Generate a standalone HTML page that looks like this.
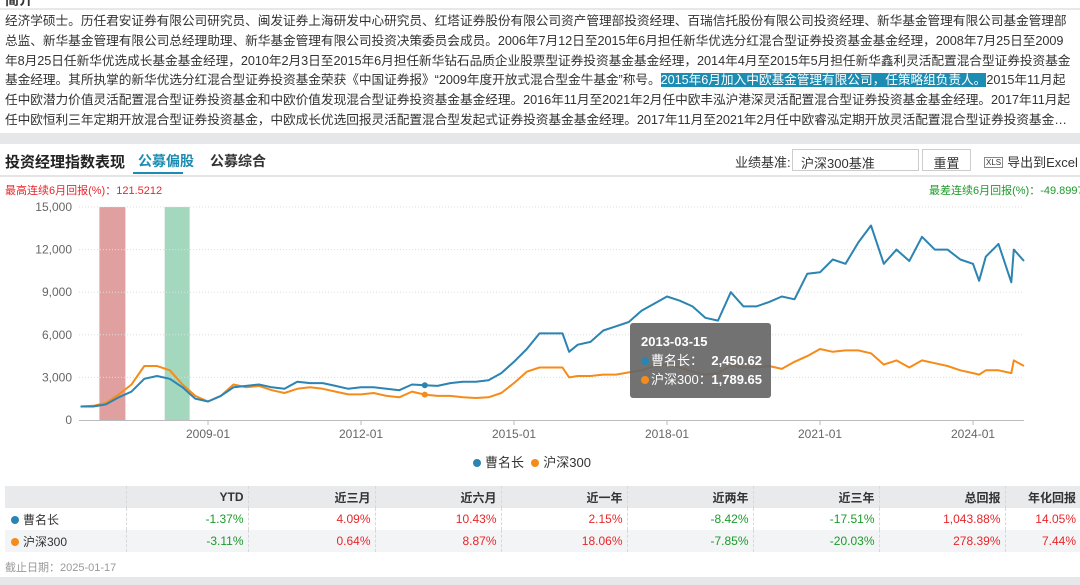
<!DOCTYPE html>
<html><head><meta charset="utf-8">
<style>
*{margin:0;padding:0;box-sizing:border-box}
body{width:1080px;height:585px;overflow:hidden;background:#fff;font-family:"Liberation Sans","Noto Sans CJK SC",sans-serif;position:relative;color:#333}
.bio{position:absolute;left:5px;top:12px;width:1075px;font-size:12.7px;line-height:19.8px;color:#333;white-space:nowrap;overflow:hidden;letter-spacing:-0.05px}
.bio div{overflow:hidden}
.hl{background:#1d8cb3;color:#fff}
.band{position:absolute;left:0;width:1080px;background:#e6e7e9}
.abs{position:absolute;white-space:nowrap}
table{position:absolute;left:5px;top:486px;width:1075px;border-collapse:collapse;font-size:12px;table-layout:fixed}
td,th{height:22px;text-align:right;padding-right:4px;border-right:1px dashed #d8d8d8}
th{background:#e9eaec;font-weight:bold;color:#333}
td.n{text-align:left;padding-left:6px}
.r{color:#e8262a}.g{color:#1c9a2a}
.dot{display:inline-block;width:8px;height:8px;border-radius:50%;margin-right:4px;vertical-align:0}
</style></head><body>
<div class="abs" style="left:5px;top:-10px;font-size:14px;font-weight:bold">简介</div>
<div class="band" style="top:8px;height:2px;background:#e8e8e8"></div>
<div class="bio">
<div>经济学硕士。历任君安证券有限公司研究员、闽发证券上海研发中心研究员、红塔证券股份有限公司资产管理部投资经理、百瑞信托股份有限公司投资经理、新华基金管理有限公司基金管理部</div>
<div>总监、新华基金管理有限公司总经理助理、新华基金管理有限公司投资决策委员会成员。2006年7月12日至2015年6月担任新华优选分红混合型证券投资基金基金经理，2008年7月25日至2009</div>
<div>年8月25日任新华优选成长基金基金经理，2010年2月3日至2015年6月担任新华钻石品质企业股票型证券投资基金基金经理，2014年4月至2015年5月担任新华鑫利灵活配置混合型证券投资基金</div>
<div>基金经理。其所执掌的新华优选分红混合型证券投资基金荣获《中国证券报》“2009年度开放式混合型金牛基金”称号。<span class="hl">2015年6月加入中欧基金管理有限公司，任策略组负责人。</span>2015年11月起</div>
<div>任中欧潜力价值灵活配置混合型证券投资基金和中欧价值发现混合型证券投资基金基金经理。2016年11月至2021年2月任中欧丰泓沪港深灵活配置混合型证券投资基金基金经理。2017年11月起</div>
<div>任中欧恒利三年定期开放混合型证券投资基金，中欧成长优选回报灵活配置混合型发起式证券投资基金基金经理。2017年11月至2021年2月任中欧睿泓定期开放灵活配置混合型证券投资基金…</div>
</div>
<div class="band" style="top:133px;height:11px"></div>
<div class="abs" style="left:5px;top:151px;font-size:15px;font-weight:bold;color:#222">投资经理指数表现</div>
<div class="abs" style="left:138px;top:151px;font-size:14px;font-weight:bold;color:#1d8cb3">公募偏股</div>
<div class="abs" style="left:133px;top:172px;width:50px;height:2px;background:#1d8cb3"></div>
<div class="abs" style="left:210px;top:151px;font-size:14px;font-weight:bold;color:#333">公募综合</div>
<div class="abs" style="left:735px;top:152px;font-size:13px;color:#333">业绩基准:</div>
<div class="abs" style="left:792px;top:149px;width:127px;height:22px;border:1px solid #ccc;font-size:13px;padding:3px 8px">沪深300基准</div>
<div class="abs" style="left:922px;top:149px;width:49px;height:22px;border:1px solid #ccc;font-size:13px;text-align:center;padding-top:3px">重置</div>
<div class="abs" style="left:984px;top:152px;font-size:13px;color:#333"><span style="font-size:8px;border:1px solid #888;padding:0 1px;margin-right:4px;vertical-align:2px">XLS</span>导出到Excel</div>
<div class="band" style="top:175px;height:2px;background:#e4e4e4"></div>
<div class="abs" style="left:5px;top:182px;font-size:11px;color:#e8262a">最高连续6月回报(%)：121.5212</div>
<div class="abs" style="left:929px;top:182px;font-size:11px;color:#1c9a2a">最差连续6月回报(%)：-49.8997</div>

<svg id="chart" style="position:absolute;left:0;top:0" width="1080" height="480"></svg>

<div class="abs" style="left:473px;top:452px;font-size:13px;color:#333"><span class="dot" style="background:#2b84b1"></span>曹名长 &nbsp;<span class="dot" style="background:#f58c1a"></span>沪深300</div>

<table>
<tr><th style="width:121px"></th><th style="width:122px">YTD</th><th style="width:127px">近三月</th><th style="width:126px">近六月</th><th style="width:126px">近一年</th><th style="width:126px">近两年</th><th style="width:126px">近三年</th><th style="width:126px">总回报</th><th style="border-right:none">年化回报</th></tr>
<tr><td class="n"><span class="dot" style="background:#2b84b1"></span>曹名长</td><td class="g">-1.37%</td><td class="r">4.09%</td><td class="r">10.43%</td><td class="r">2.15%</td><td class="g">-8.42%</td><td class="g">-17.51%</td><td class="r">1,043.88%</td><td class="r" style="border-right:none">14.05%</td></tr>
<tr style="background:#f3f4f5"><td class="n"><span class="dot" style="background:#f58c1a"></span>沪深300</td><td class="g">-3.11%</td><td class="r">0.64%</td><td class="r">8.87%</td><td class="r">18.06%</td><td class="g">-7.85%</td><td class="g">-20.03%</td><td class="r">278.39%</td><td class="r" style="border-right:none">7.44%</td></tr>
</table>
<div class="abs" style="left:5px;top:559px;font-size:11px;color:#999">截止日期：2025-01-17</div>
<div class="band" style="top:577px;height:8px"></div>

<script>
const dates=[2006.5,2006.75,2007,2007.25,2007.5,2007.75,2008,2008.25,2008.5,2008.75,2009,2009.25,2009.5,2009.75,2010,2010.25,2010.5,2010.75,2011,2011.25,2011.5,2011.75,2012,2012.25,2012.5,2012.75,2013,2013.25,2013.5,2013.75,2014,2014.25,2014.5,2014.75,2015,2015.25,2015.5,2015.75,2015.95,2016.08,2016.25,2016.5,2016.75,2017,2017.25,2017.5,2017.75,2018,2018.25,2018.5,2018.75,2019,2019.25,2019.5,2019.75,2020,2020.25,2020.5,2020.75,2021,2021.25,2021.5,2021.75,2022,2022.25,2022.5,2022.75,2023,2023.25,2023.5,2023.75,2024,2024.12,2024.25,2024.5,2024.75,2024.8,2025];
const manager=[950,950,1100,1600,2000,2900,3100,2900,2300,1500,1300,1700,2300,2400,2500,2300,2200,2700,2600,2600,2400,2200,2300,2300,2200,2100,2500,2450,2400,2600,2700,2700,2800,3300,4100,5000,6100,6100,6100,4800,5300,5500,6300,6600,6900,7700,8200,8700,8400,8000,7200,7000,9000,8000,8000,8300,8700,8500,10300,10400,11300,11000,12500,13700,11000,12000,11200,12900,12000,12000,11300,11000,9800,11500,12400,9700,12000,11200];
const hs300=[950,1000,1200,1800,2500,3800,3800,3500,2500,1700,1300,1700,2500,2300,2400,2100,1900,2200,2300,2200,2000,1800,1800,1900,1700,1600,2000,1790,1700,1700,1600,1550,1600,1900,2600,3400,3700,3700,3700,3000,3100,3100,3200,3200,3350,3500,3800,3900,3700,3400,3200,3300,3800,3700,3700,3800,3600,4100,4500,5000,4800,4900,4900,4700,3900,4200,3700,4200,4000,3800,3500,3300,3200,3500,3500,3300,4200,3800];
const yTicks=[0,3000,6000,9000,12000,15000];
const xTicks=["2009-01","2012-01","2015-01","2018-01","2021-01","2024-01"];
const xTickYears=[2009,2012,2015,2018,2021,2024];
const bands=[[2006.87,2007.38,"#e0a09f"],[2008.15,2008.64,"#a3d8bf"]];

const svg=document.getElementById('chart'),NS="http://www.w3.org/2000/svg";
const x=y=>79+(y-2006.47)*51, yv=v=>420-v/15000*213;
function mk(t,a,p){const e=document.createElementNS(NS,t);for(const k in a)e.setAttribute(k,a[k]);(p||svg).appendChild(e);return e;}
bands.forEach(b=>{const r=mk('rect',{x:x(b[0]),y:yv(15000),width:x(b[1])-x(b[0]),height:213,fill:b[2]});

});
yTicks.forEach(v=>{
 if(v>0){const l=mk('line',{x1:79,x2:1024,y1:yv(v),y2:yv(v),stroke:"#ddd","stroke-dasharray":"1,2"});
 
 }
 const t=mk('text',{x:72,y:yv(v)+4,"text-anchor":"end","font-size":12,fill:"#666"});t.textContent=v.toLocaleString('en-US');
 
 
});
const ax=mk('line',{x1:79,x2:1024,y1:420.5,y2:420.5,stroke:"#bbb"});


xTicks.forEach((s,i)=>{const px=x(xTickYears[i]);
 mk('line',{x1:px,x2:px,y1:420,y2:425,stroke:"#bbb"});
 const t=mk('text',{x:px,y:438,"text-anchor":"middle","font-size":12,fill:"#666"});t.textContent=s;
 
 });
function line(vals,c,name){const p=mk('path',{d:vals.map((v,i)=>(i?'L':'M')+x(dates[i]).toFixed(1)+','+yv(v).toFixed(1)).join(''),fill:"none",stroke:c,"stroke-width":2,"stroke-linejoin":"round"});
 
 }
line(hs300,"#f58c1a","hs300-line");
line(manager,"#2b84b1","manager-line");
const hi=27;
mk('circle',{cx:x(dates[hi]),cy:yv(manager[hi]),r:3,fill:"#2b84b1"});
mk('circle',{cx:x(dates[hi]),cy:yv(hs300[hi]),r:3,fill:"#f58c1a"});
const g=mk('g',{});


mk('rect',{x:630,y:323,width:141,height:75,rx:3,fill:"#666",opacity:0.92},g);
mk('text',{x:641,y:346,"font-size":13,"font-weight":"bold",fill:"#fff"},g).textContent="2013-03-15";
mk('circle',{cx:645,cy:361,r:4,fill:"#2b84b1"},g);mk('circle',{cx:645,cy:380,r:4,fill:"#f58c1a"},g);
mk('text',{x:651,y:365,"font-size":13,fill:"#fff"},g).textContent="曹名长：";
mk('text',{x:651,y:384,"font-size":13,fill:"#fff"},g).textContent="沪深300：";
mk('text',{x:762,y:365,"font-size":13,"font-weight":"bold",fill:"#fff","text-anchor":"end"},g).textContent="2,450.62";
mk('text',{x:762,y:384,"font-size":13,"font-weight":"bold",fill:"#fff","text-anchor":"end"},g).textContent="1,789.65";
</script>
</body></html>
